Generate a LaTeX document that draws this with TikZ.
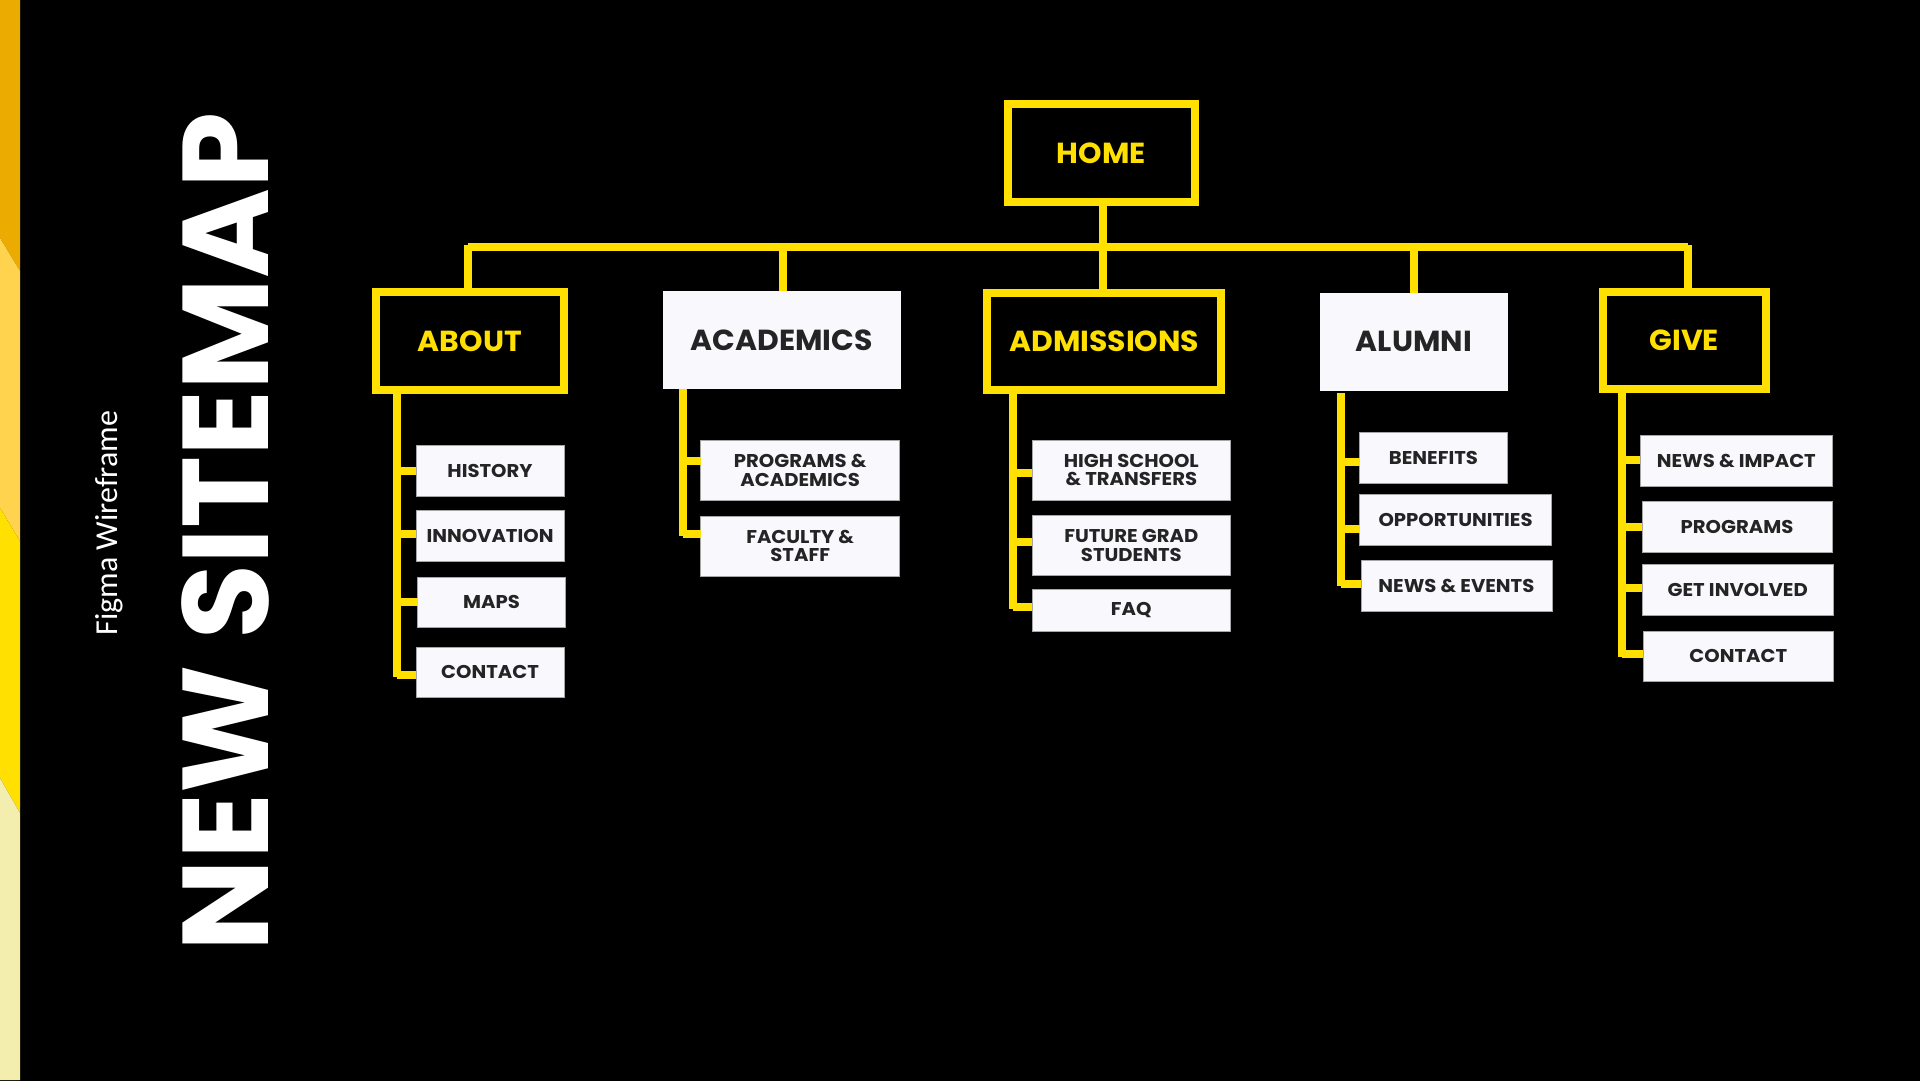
\documentclass[tikz,border=0pt]{standalone}
\usepackage{fontspec}
\setmainfont{Poppins}
\newfontfamily\navfont{Poppins}[FakeStretch=1.03]
\newfontfamily\subfont{Poppins}[FakeStretch=1.06]
\newfontfamily\titlefont{Poppins}[FakeStretch=1.0]
\newfontfamily\notefont{Carlito}

\definecolor{siteyellow}{HTML}{FFE000}
\definecolor{sitepaper}{HTML}{F8F8FD}
\definecolor{siteink}{HTML}{242424}

\tikzset{
    wire/.style={draw=siteyellow, line width=8pt},
    navbox/.style={draw=siteyellow, line width=8pt, fill=black, text=siteyellow, inner sep=0pt, outer sep=0pt,
        font=\navfont\bfseries\fontsize{29}{29}\selectfont},
    mainbox/.style={fill=sitepaper, text=siteink, inner sep=0pt, outer sep=0pt,
        font=\navfont\bfseries\fontsize{29}{29}\selectfont},
    subbox/.style={fill=sitepaper, draw=gray!70, line width=0.5pt, text=siteink, inner sep=0pt, outer sep=0pt, align=center,
        font=\subfont\bfseries\fontsize{18.5}{18.2}\selectfont, minimum height=50.5pt},
    subtall/.style={subbox, minimum height=60pt},
}

\begin{document}
\begin{tikzpicture}[x=1pt,y=-1pt]
    % Фон и полоса слева
    \useasboundingbox (0,0) rectangle (1920,1080);
    \fill[black] (-2,-2) rectangle (1922,1082);
    \fill[color={rgb,255:red,235;green,171;blue,0}] (0,0) -- (20,0) -- (20,271) -- (0,238) -- cycle;
    \fill[color={rgb,255:red,255;green,211;blue,77}] (0,238) -- (20,271) -- (20,541) -- (0,508) -- cycle;
    \fill[siteyellow] (0,508) -- (20,541) -- (20,813) -- (0,778) -- cycle;
    \fill[color={rgb,255:red,243;green,237;blue,174}] (0,778) -- (20,813) -- (20,1080) -- (0,1080) -- cycle;

    % Заголовки
    \node[rotate=90, text=white, inner sep=0pt] (title) at (225,532) {\titlefont\bfseries\fontsize{122}{122}\selectfont NEW SITEMAP};
    \node[rotate=90, text=white, inner sep=0pt] (note) at (109,523) {\notefont\fontsize{32}{32}\selectfont Figma Wireframe};

    % Верхний ряд
    \node[navbox, minimum width=187.6pt, minimum height=97.7pt] (home) at (1101.4,153.3) {HOME};
    \node[navbox, minimum width=187.4pt, minimum height=97.3pt] (about) at (469.8,340.9) {ABOUT};
    \node[mainbox, minimum width=237.8pt, minimum height=97.2pt] (academics) at (781.8,340) {ACADEMICS};
    \node[navbox, minimum width=233.9pt, minimum height=97.3pt] (admissions) at (1104.3,341.3) {ADMISSIONS};
    \node[mainbox, minimum width=187.5pt, minimum height=97.6pt] (alumni) at (1413.9,341.8) {ALUMNI};
    \node[navbox, minimum width=163.4pt, minimum height=97.3pt] (give) at (1684.3,340.4) {GIVE};

    % Пункты ABOUT
    \node[subbox, minimum width=148pt] (history) at (490,470.6) {HISTORY};
    \node[subbox, minimum width=148pt] (innovation) at (490,535.9) {INNOVATION};
    \node[subbox, minimum width=148pt] (maps) at (491.6,602) {MAPS};
    \node[subbox, minimum width=148pt] (aboutcontact) at (490,672.4) {CONTACT};

    % Пункты ACADEMICS
    \node[subtall, minimum width=199pt] (programs) at (800.2,470.4) {PROGRAMS \&\\ACADEMICS};
    \node[subtall, minimum width=199pt] (faculty) at (800.2,546.1) {FACULTY \&\\STAFF};

    % Пункты ADMISSIONS
    \node[subtall, minimum width=198.6pt] (highschool) at (1131.3,470) {HIGH SCHOOL\\\& TRANSFERS};
    \node[subtall, minimum width=198.6pt] (futuregrad) at (1131.3,545.5) {FUTURE GRAD\\STUDENTS};
    \node[subbox, minimum width=198.6pt, minimum height=41.6pt] (faq) at (1131.3,610.2) {FAQ};

    % Пункты ALUMNI
    \node[subbox, minimum width=147.8pt] (benefits) at (1433.4,457.6) {BENEFITS};
    \node[subbox, minimum width=192.2pt] (opportunities) at (1455.6,519.6) {OPPORTUNITIES};
    \node[subbox, minimum width=190.7pt] (newsevents) at (1456.4,585.7) {NEWS \& EVENTS};

    % Пункты GIVE
    \node[subbox, minimum width=191.7pt] (newsimpact) at (1736.3,460.5) {NEWS \& IMPACT};
    \node[subbox, minimum width=190.3pt] (giveprograms) at (1737,526.5) {PROGRAMS};
    \node[subbox, minimum width=191.8pt] (involved) at (1737.7,589.9) {GET INVOLVED};
    \node[subbox, minimum width=190.7pt] (givecontact) at (1738.3,656) {CONTACT};

    % Верхняя шина
    \coordinate (busleft) at (468.2,246.8);
    \coordinate (busright) at (1687.7,246.8);
    \draw[wire] (busleft) -- (busright);
    \draw[wire] (home.south -| 1103.2,0) -- (1103.2,246.8) -- (admissions.north -| 1103.2,0);
    \draw[wire] (468.2,245) -- (about.north -| 468.2,0);
    \draw[wire] (782.9,246.8) -- (academics.north -| 782.9,0);
    \draw[wire] (1413.9,246.8) -- (alumni.north);
    \draw[wire] (1687.7,245) -- (give.north -| 1687.7,0);

    % Стволы
    \coordinate (abouttrunk) at (397,389);
    \coordinate (academictrunk) at (682.9,388.6);
    \coordinate (admissiontrunk) at (1013,390);
    \coordinate (alumnitrunk) at (1341,393);
    \coordinate (givetrunk) at (1622.3,389);
    \draw[wire] (abouttrunk) -- (397,676.7);
    \draw[wire] (academictrunk) -- (682.9,536.3);
    \draw[wire] (admissiontrunk) -- (1013,609.4);
    \draw[wire] (alumnitrunk) -- (1341,586);
    \draw[wire] (givetrunk) -- (1622.3,656.7);

    % Отводы к пунктам
    \foreach \t/\y in {history/471.4, innovation/533.5, maps/601.6, aboutcontact/674.7}
        \draw[wire] (abouttrunk |- 0,\y) -- (\t.west |- 0,\y);
    \foreach \t/\y in {programs/460.8, faculty/533.5}
        \draw[wire] (academictrunk |- 0,\y) -- (\t.west |- 0,\y);
    \foreach \t/\y in {highschool/473.3, futuregrad/541.8, faq/607.3}
        \draw[wire] (admissiontrunk |- 0,\y) -- (\t.west |- 0,\y);
    \foreach \t/\y in {benefits/462.4, opportunities/528.6, newsevents/584}
        \draw[wire] (alumnitrunk |- 0,\y) -- (\t.west |- 0,\y);
    \foreach \t/\y in {newsimpact/459.8, giveprograms/526.7, involved/588.3, givecontact/654}
        \draw[wire] (givetrunk |- 0,\y) -- (\t.west |- 0,\y);
\end{tikzpicture}
\end{document}
